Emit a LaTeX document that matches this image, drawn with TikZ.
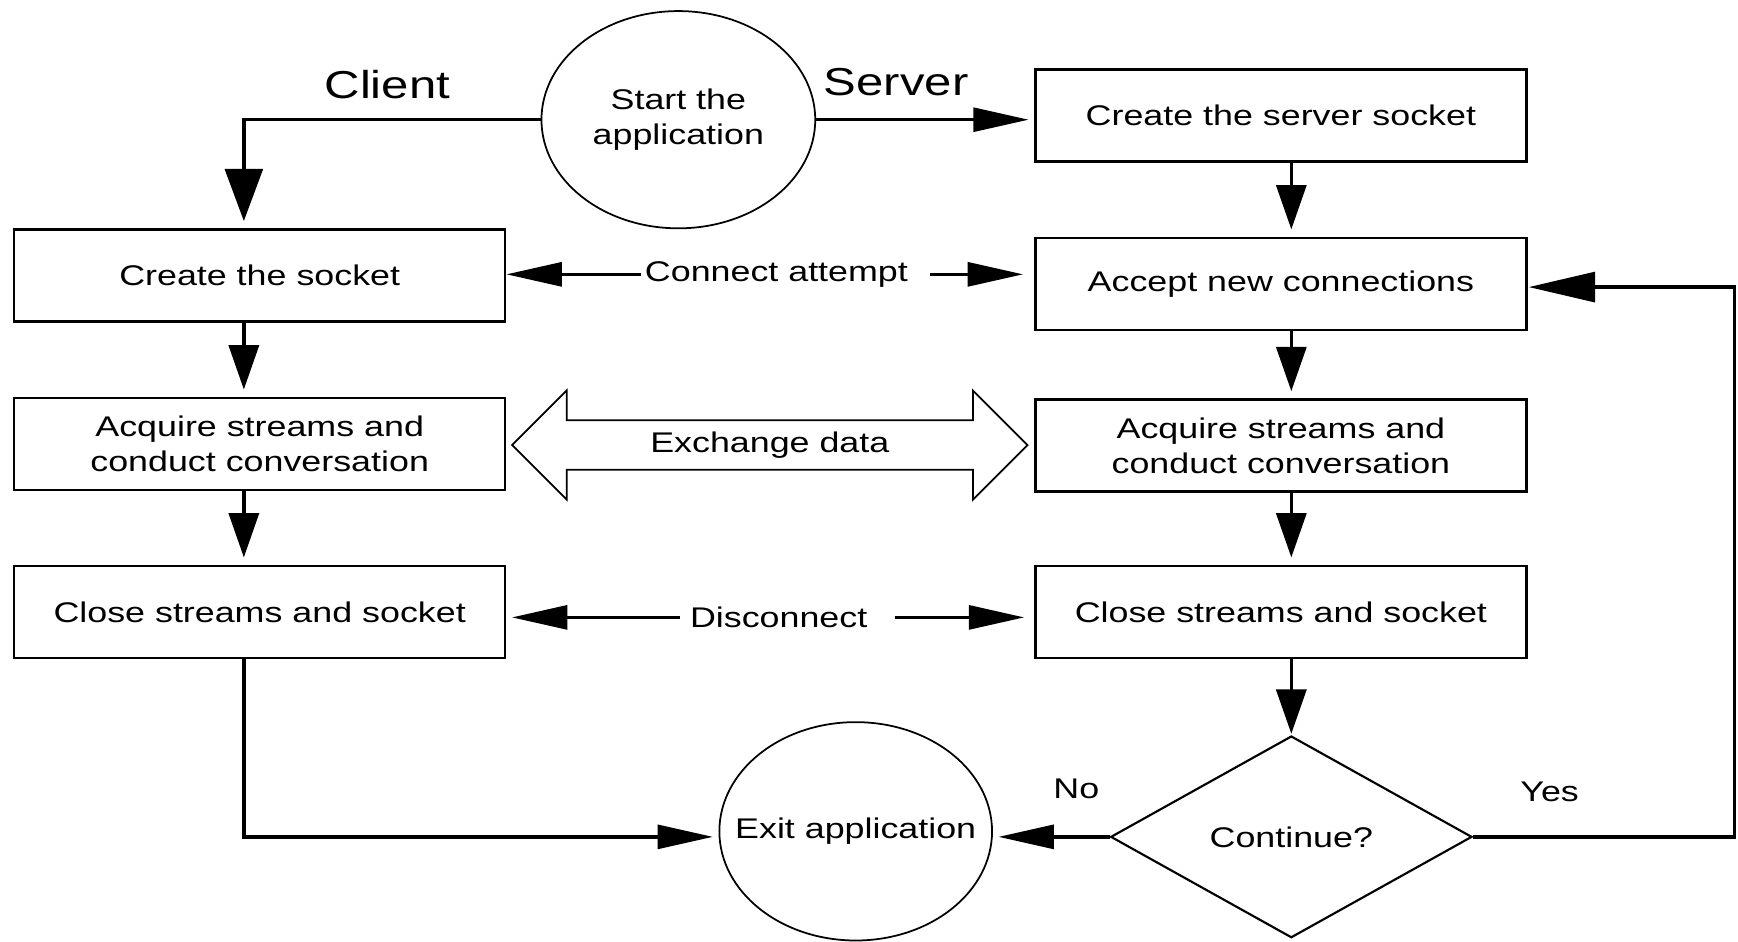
\documentclass[tikz,border=0pt]{standalone}
\usepackage{fontspec}
\setmainfont{Liberation Sans}[FakeStretch=1.26]
\usepackage{tikz}
\usetikzlibrary{arrows.meta, shapes.geometric, shapes.arrows}

\tikzset{
  stepbox/.style={draw, line width=0.6pt, minimum width=4.43cm, minimum height=0.83cm, inner sep=0pt, align=center},
  term/.style={draw, ellipse, line width=0.45pt, minimum width=2.47cm, minimum height=1.96cm, inner sep=0pt, align=center},
  decision/.style={draw, diamond, line width=0.55pt, minimum width=3.26cm, minimum height=1.82cm, inner sep=0pt},
  xchg/.style={draw, double arrow, line width=0.45pt, minimum height=4.65cm, double arrow head extend=2.7mm, inner xsep=0pt, inner ysep=0.95mm},
  side/.style={font=\fontsize{10}{12}\selectfont},
  varr/.style={-{Triangle[length=4mm, width=2.7mm]}, line width=0.9pt, shorten >=0.65mm},
  varrbig/.style={-{Triangle[length=4.7mm, width=3.4mm]}, line width=0.9pt, shorten >=0.65mm},
  harr/.style={-{Triangle[length=5mm, width=2.15mm]}, line width=0.9pt, shorten >=0.5mm},
  harrbig/.style={-{Triangle[length=6mm, width=2.7mm]}, line width=0.9pt, shorten >=0.1mm}
}

\begin{document}
\begin{tikzpicture}[font=\fontsize{7.3}{8.9}\selectfont]
\useasboundingbox (0,0) rectangle (15.68,-8.49);

% lanes of the vertical arrows
\coordinate (lx) at (2.20,0);
\coordinate (rx) at (11.65,0);
\coordinate (loop) at (15.65,-2.59);

% start and end
\node[term] (start) at (6.12,-1.08) {Start the\\application};
\node[term, minimum width=2.46cm, minimum height=1.97cm, inner xsep=-0.3cm] (exit) at (7.72,-7.50) {Exit application};
\node[side] (client) at (3.495,-0.765) {Client};
\node[side] (server) at (8.085,-0.74) {Server};

% client boxes
\node[stepbox] (cs) at (2.343,-2.485) {Create the socket};
\node[stepbox] (acl) at (2.343,-4.005) {Acquire streams and\\conduct conversation};
\node[stepbox] (cll) at (2.343,-5.52) {Close streams and socket};

% server boxes
\node[stepbox] (scs) at (11.556,-1.042) {Create the server socket};
\node[stepbox] (acc) at (11.556,-2.56) {Accept new connections};
\node[stepbox] (acr) at (11.556,-4.02) {Acquire streams and\\conduct conversation};
\node[stepbox] (clr) at (11.556,-5.52) {Close streams and socket};
\node[decision] (cont) at (11.65,-7.55) {Continue?};

% messages between the two sides
\node[inner xsep=0.3mm] (conn) at (7.005,-2.475) {Connect attempt};
\node[xchg] (xd) at (6.945,-4.015) {Exchange data};
\node[inner xsep=0.8mm] (disc) at (7.025,-5.57) {Disconnect};
\node (nolbl) at (9.71,-7.12) {No};
\node (yeslbl) at (13.98,-7.14) {Yes};

% client flow
\draw[varrbig] (start.west) -| (cs.north -| lx);
\draw[varr] (cs.south -| lx) -- (acl.north -| lx);
\draw[varr] (acl.south -| lx) -- (cll.north -| lx);
\draw[harr] (cll.south -| lx) |- (exit.west |- cont.west);

% server flow
\draw[harr] (start.east) -- (scs.west |- start.east);
\draw[varr] (scs.south -| rx) -- (acc.north -| rx);
\draw[varr] (acc.south -| rx) -- (acr.north -| rx);
\draw[varr] (acr.south -| rx) -- (clr.north -| rx);
\draw[varr, shorten >=0.1mm] (clr.south -| rx) -- (cont.north);
\draw[harr] (cont.west) -- (exit.east |- cont.west);
\draw[harrbig] (cont.east) -| (loop) -- (acc.east |- loop);

% connect / disconnect
\draw[harr, shorten >=0pt] (conn.west) -- (cs.east |- conn.west);
\draw[harr, shorten <=1.6mm, shorten >=1mm] (conn.east) -- (acc.west |- conn.east);
\draw[harr] (disc.west) -- (cll.east |- disc.west);
\draw[harr, shorten <=1.6mm, shorten >=0.9mm] (disc.east) -- (clr.west |- disc.east);
\end{tikzpicture}
\end{document}
